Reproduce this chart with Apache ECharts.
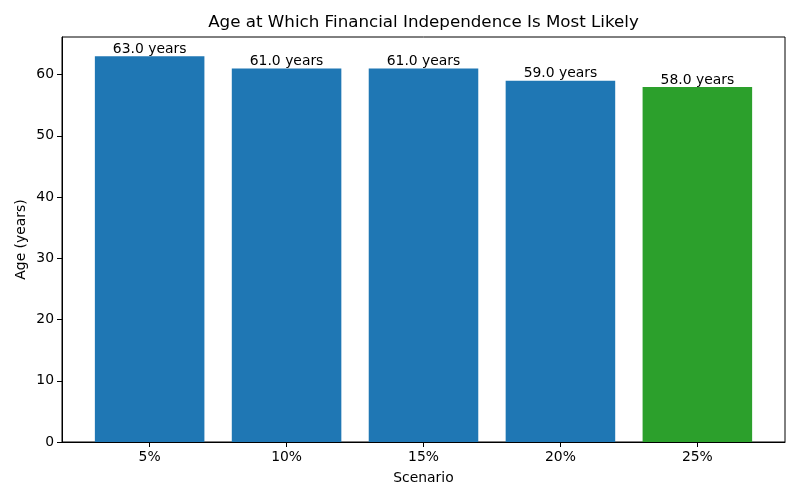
<!DOCTYPE html>
<html>
<head>
<meta charset="utf-8">
<script src="https://cdn.jsdelivr.net/npm/echarts@6/dist/echarts.min.js"></script>
<style>html,body{margin:0;padding:0;background:#fff}#c{width:800px;height:500px}</style>
</head>
<body>
<div id="c"></div>
<script>
const categories = ['5%', '10%', '15%', '20%', '25%'];
const ages = [63.0, 61.0, 61.0, 59.0, 58.0];
const barColors = ['#1f77b4', '#1f77b4', '#1f77b4', '#1f77b4', '#2ca02c'];
const yTicks = [0, 10, 20, 30, 40, 50, 60];

const font = 'DejaVu Sans';
const chart = echarts.init(document.getElementById('c'), null, {renderer: 'canvas'});
const xIdx = categories.map((_, i) => i);
chart.setOption({
  animation: false,
  backgroundColor: '#fff',
  title: {
    text: 'Age at Which Financial Independence Is Most Likely',
    left: 423.5, top: 14, textAlign: 'center', padding: 0,
    textStyle: {fontFamily: font, fontSize: 16.7, fontWeight: 'normal', color: '#000'}
  },
  grid: {left: 62, right: 15, top: 37, bottom: 58, show: true, borderColor: '#000', borderWidth: 1, backgroundColor: 'transparent'},
  xAxis: {
    type: 'value', min: -0.64, max: ages.length - 1 + 0.64,
    name: 'Scenario', nameLocation: 'middle', nameGap: 29, nameMoveOverlap: false,
    nameTextStyle: {fontFamily: font, fontSize: 13.9, color: '#000'},
    splitLine: {show: false},
    axisLine: {show: true, onZero: false, lineStyle: {color: '#000', width: 1}},
    axisTick: {show: true, length: 5, customValues: xIdx, lineStyle: {color: '#000'}},
    axisLabel: {customValues: xIdx, margin: 8, fontFamily: font, fontSize: 13.9, color: '#000',
      formatter: v => categories[Math.round(v)] ?? ''}
  },
  yAxis: {
    type: 'value', min: 0, max: 66.15,
    name: 'Age (years)', nameLocation: 'middle', nameGap: 34, nameMoveOverlap: false,
    nameTextStyle: {fontFamily: font, fontSize: 13.9, color: '#000'},
    splitLine: {show: false},
    axisLine: {show: true, onZero: false, lineStyle: {color: '#000', width: 1}},
    axisTick: {show: true, length: 5, customValues: yTicks, lineStyle: {color: '#000'}},
    axisLabel: {customValues: yTicks, margin: 8, fontFamily: font, fontSize: 13.9, color: '#000'}
  },
  series: [{
    type: 'bar',
    barWidth: '80%',
    data: ages.map((v, i) => ({value: [i, v], itemStyle: {color: barColors[i], borderWidth: 0}})),
    label: {
      show: true, position: 'top', distance: 0,
      fontFamily: font, fontSize: 13.9, color: '#000',
      formatter: p => p.value[1].toFixed(1) + ' years'
    }
  }]
});
</script>
</body>
</html>
